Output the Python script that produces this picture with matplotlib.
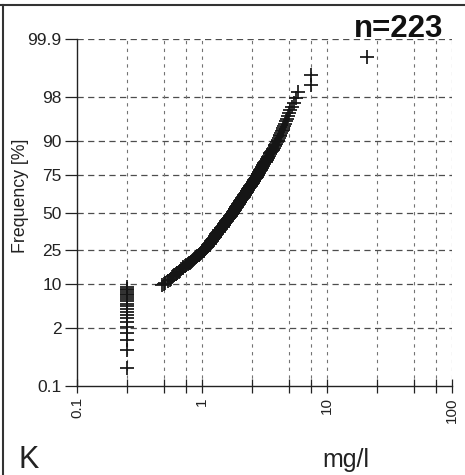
import numpy as np
import matplotlib
matplotlib.use('Agg')
import matplotlib.pyplot as plt
from matplotlib.lines import Line2D
from statistics import NormalDist

plt.rcParams['font.family'] = ['Liberation Sans', 'DejaVu Sans']

# ---- data (K, mg/l), sorted concentrations; first 21 below detection (plotted at 0.25)
censored = [0.25, 0.25, 0.25, 0.25, 0.25, 0.25, 0.25, 0.25, 0.25, 0.25,
            0.25, 0.25, 0.25, 0.25, 0.25, 0.25, 0.25, 0.25, 0.25, 0.25, 0.25]
measured = [0.48, 0.50, 0.51, 0.53, 0.55, 0.56, 0.58, 0.59,
            0.60, 0.62, 0.63, 0.65, 0.67, 0.68, 0.70, 0.71, 0.73, 0.75,
            0.77, 0.78, 0.80, 0.81, 0.83, 0.85, 0.86, 0.88, 0.90, 0.92,
            0.94, 0.95, 0.97, 0.98, 1.00, 1.01, 1.03, 1.04, 1.06, 1.07,
            1.09, 1.10, 1.11, 1.12, 1.14, 1.15, 1.16, 1.17, 1.18, 1.20,
            1.21, 1.22, 1.23, 1.24, 1.26, 1.27, 1.28, 1.29, 1.30, 1.32,
            1.33, 1.34, 1.36, 1.37, 1.38, 1.39, 1.41, 1.42, 1.43, 1.45,
            1.46, 1.47, 1.49, 1.50, 1.51, 1.53, 1.54, 1.55, 1.57, 1.58,
            1.59, 1.61, 1.62, 1.64, 1.65, 1.67, 1.68, 1.70, 1.71, 1.73,
            1.74, 1.76, 1.77, 1.78, 1.80, 1.81, 1.83, 1.84, 1.85, 1.87,
            1.88, 1.90, 1.91, 1.92, 1.94, 1.95, 1.97, 1.98, 2.00, 2.02,
            2.03, 2.05, 2.06, 2.08, 2.10, 2.11, 2.13, 2.15, 2.16, 2.18,
            2.20, 2.22, 2.24, 2.25, 2.27, 2.29, 2.31, 2.33, 2.35, 2.37,
            2.39, 2.41, 2.43, 2.45, 2.47, 2.50, 2.52, 2.54, 2.56, 2.59,
            2.61, 2.63, 2.66, 2.68, 2.70, 2.73, 2.75, 2.78, 2.80, 2.83,
            2.85, 2.88, 2.90, 2.93, 2.96, 2.98, 3.01, 3.04, 3.07, 3.10,
            3.13, 3.16, 3.19, 3.23, 3.26, 3.29, 3.33, 3.36, 3.40, 3.45,
            3.49, 3.53, 3.58, 3.62, 3.67, 3.72, 3.77, 3.82, 3.87, 3.93,
            3.98, 4.03, 4.08, 4.13, 4.18, 4.24, 4.30, 4.36, 4.42, 4.48,
            4.54, 4.62, 4.70, 4.79, 4.88,
            4.98, 5.10, 5.25, 5.40, 5.60,
            5.82, 7.40, 7.50, 21.0]

y_ticks = [0.1, 2, 10, 25, 50, 75, 90, 98, 99.9]
y_tick_labels = ['0.1', '2', '10', '25', '50', '75', '90', '98', '99.9']
x_major = [0.1, 1, 10, 100]
x_major_labels = ['0.1', '1', '10', '100']
x_minor = [0.25, 0.5, 0.75, 2.5, 5, 7.5, 25, 50, 75]

values = np.sort(np.array(censored + measured))
n = len(values)
ranks = np.arange(1, n + 1)
freq = (ranks - 0.375) / (n + 0.25) * 100.0   # Blom plotting positions

nd = NormalDist()
_ppf = np.vectorize(nd.inv_cdf, otypes=[float])
_cdf = np.vectorize(nd.cdf, otypes=[float])


def fwd(p):
    p = np.clip(np.asarray(p, dtype=float) / 100.0, 1e-9, 1 - 1e-9)
    return _ppf(p)


def inv(z):
    return _cdf(np.asarray(z, dtype=float)) * 100.0


fig = plt.figure(figsize=(4.65, 4.75), dpi=100)
ax = fig.add_axes([77 / 465, 89 / 475, 375 / 465, 347 / 475])
ax.set_xscale('log')
ax.set_yscale('function', functions=(fwd, inv))
ax.set_xlim(0.1, 100)
ax.set_ylim(0.1, 99.9)

# grid
for yv in y_ticks[1:]:
    ax.axhline(yv, color='0.3', lw=0.9, dashes=(5, 3.5), zorder=1)
for xv in x_major[1:] + x_minor:
    ax.axvline(xv, color='0.45', lw=0.8, dashes=(3, 4), zorder=1)

ax.plot(values, freq, linestyle='none', marker='+', color='#151515',
        ms=10.5, mew=1.25, zorder=3)

ax.set_yticks(y_ticks)
ax.set_yticklabels(y_tick_labels, fontsize=12.5)
ax.set_yticks([], minor=True)
ax.set_xticks(x_major)
ax.set_xticklabels(x_major_labels, rotation=90, fontsize=11)
ax.set_xticks(x_minor, minor=True)
ax.set_xticklabels([], minor=True)
ax.tick_params(axis='y', which='major', direction='out', length=9, width=0.9, pad=2, colors='#222')
ax.tick_params(axis='x', which='both', direction='inout', length=10, width=0.9, pad=3, colors='#222')
for s in ['top', 'right']:
    ax.spines[s].set_visible(False)
for s in ['left', 'bottom']:
    ax.spines[s].set_color('#222')
    ax.spines[s].set_linewidth(1.0)

ax.set_ylabel('Frequency [%]', fontsize=12.8, color='#222')
ax.yaxis.set_label_coords(-(77 - 29) / 375, 0.5 + (212 - 195) / 347)

fig.text(399 / 465, 1 - 37 / 475, 'n=223', ha='center', va='baseline',
         fontsize=22.5, fontweight='bold', color='#111')
fig.text(18 / 465, 1 - 468 / 475, 'K', ha='left', va='baseline',
         fontsize=22, color='#222')
fig.text(346 / 465, 1 - 467 / 475, 'mg/l', ha='center', va='baseline',
         fontsize=18, color='#222')

# outer panel frame
fig.add_artist(Line2D([3 / 465, 3 / 465], [0, 1 - 5 / 475], transform=fig.transFigure,
                      color='#333', lw=1.5))
fig.add_artist(Line2D([0, 1], [1 - 5 / 475, 1 - 5 / 475], transform=fig.transFigure,
                      color='#333', lw=1.5))

fig.savefig('out.png', dpi=100)
